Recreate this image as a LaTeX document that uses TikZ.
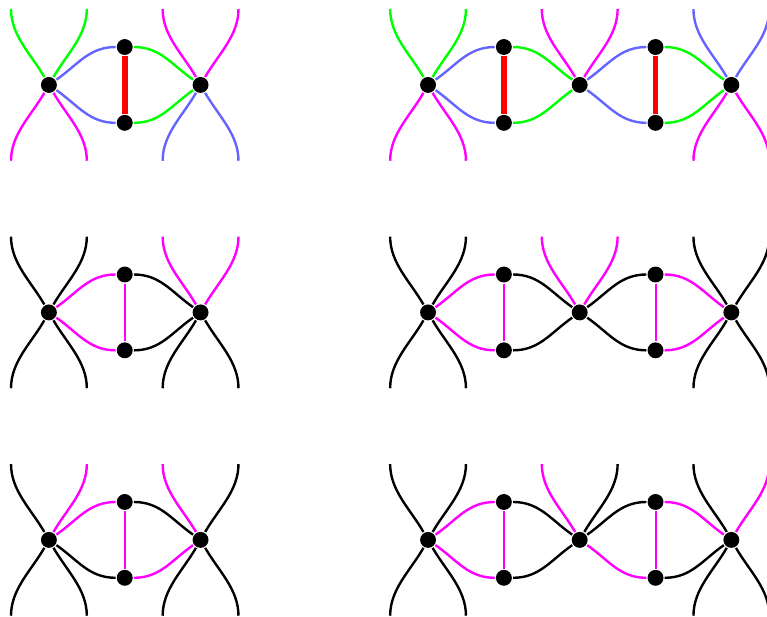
\documentclass[tikz,border=0pt]{standalone}
\definecolor{lgreen}{HTML}{00FF00}
\definecolor{lblue}{HTML}{6464FF}
\definecolor{mag}{HTML}{FF00FF}
\definecolor{lred}{HTML}{FF0000}

\begin{document}
\begin{tikzpicture}[line width=1.8pt]
\tikzset{
  dot/.style={circle,fill=black,inner sep=0pt,minimum size=.42cm},
  rung/.style={line width=1.5pt},
  hot/.style={lred,line width=4.2pt},
  legul/.style={out=120,in=-90,looseness=.9},
  legur/.style={out=60,in=-90,looseness=.9},
  legdl/.style={out=240,in=90,looseness=.9},
  legdr/.style={out=-60,in=90,looseness=.9},
  rise/.style={out=35,in=180},
  sink/.style={out=-35,in=180},
  fall/.style={out=0,in=145},
  climb/.style={out=0,in=-145}}
\useasboundingbox (-1.29,-2.03) rectangle (18.94,14.24);

% small panels, left column
\foreach \p/\y in {a/12,c/6,e/0}{
  \node[dot] (\p L) at (0,\y) {};
  \node[dot] (\p T) at (2,\y+1) {};
  \node[dot] (\p B) at (2,\y-1) {};
  \node[dot] (\p R) at (4,\y) {};
}
% long panels, right column
\foreach \p/\y in {b/12,d/6,f/0}{
  \node[dot] (\p L) at (10,\y) {};
  \node[dot] (\p T1) at (12,\y+1) {};
  \node[dot] (\p B1) at (12,\y-1) {};
  \node[dot] (\p M) at (14,\y) {};
  \node[dot] (\p T2) at (16,\y+1) {};
  \node[dot] (\p B2) at (16,\y-1) {};
  \node[dot] (\p R) at (18,\y) {};
}

% row 1, left
\draw[lgreen] (aL) to[legul] ++(-1,2) (aL) to[legur] ++(1,2);
\draw[mag] (aL) to[legdl] ++(-1,-2) (aL) to[legdr] ++(1,-2);
\draw[lblue] (aL) to[rise] (aT) (aL) to[sink] (aB);
\draw[hot] (aT) -- (aB);
\draw[lgreen] (aT) to[fall] (aR) (aB) to[climb] (aR);
\draw[mag] (aR) to[legul] ++(-1,2) (aR) to[legur] ++(1,2);
\draw[lblue] (aR) to[legdl] ++(-1,-2) (aR) to[legdr] ++(1,-2);

% row 1, right
\draw[lgreen] (bL) to[legul] ++(-1,2) (bL) to[legur] ++(1,2);
\draw[mag] (bL) to[legdl] ++(-1,-2) (bL) to[legdr] ++(1,-2);
\draw[lblue] (bL) to[rise] (bT1) (bL) to[sink] (bB1);
\draw[hot] (bT1) -- (bB1);
\draw[lgreen] (bT1) to[fall] (bM) (bB1) to[climb] (bM);
\draw[mag] (bM) to[legul] ++(-1,2) (bM) to[legur] ++(1,2);
\draw[lblue] (bM) to[rise] (bT2) (bM) to[sink] (bB2);
\draw[hot] (bT2) -- (bB2);
\draw[lgreen] (bT2) to[fall] (bR) (bB2) to[climb] (bR);
\draw[lblue] (bR) to[legul] ++(-1,2) (bR) to[legur] ++(1,2);
\draw[mag] (bR) to[legdl] ++(-1,-2) (bR) to[legdr] ++(1,-2);

% row 2, left
\draw (cL) to[legul] ++(-1,2) (cL) to[legur] ++(1,2);
\draw (cL) to[legdl] ++(-1,-2) (cL) to[legdr] ++(1,-2);
\draw[mag] (cL) to[rise] (cT) (cL) to[sink] (cB);
\draw[mag,rung] (cT) -- (cB);
\draw (cT) to[fall] (cR) (cB) to[climb] (cR);
\draw[mag] (cR) to[legul] ++(-1,2) (cR) to[legur] ++(1,2);
\draw (cR) to[legdl] ++(-1,-2) (cR) to[legdr] ++(1,-2);

% row 2, right
\draw (dL) to[legul] ++(-1,2) (dL) to[legur] ++(1,2);
\draw (dL) to[legdl] ++(-1,-2) (dL) to[legdr] ++(1,-2);
\draw[mag] (dL) to[rise] (dT1) (dL) to[sink] (dB1);
\draw[mag,rung] (dT1) -- (dB1);
\draw (dT1) to[fall] (dM) (dB1) to[climb] (dM);
\draw[mag] (dM) to[legul] ++(-1,2) (dM) to[legur] ++(1,2);
\draw (dM) to[rise] (dT2) (dM) to[sink] (dB2);
\draw[mag,rung] (dT2) -- (dB2);
\draw[mag] (dT2) to[fall] (dR) (dB2) to[climb] (dR);
\draw (dR) to[legul] ++(-1,2) (dR) to[legur] ++(1,2);
\draw (dR) to[legdl] ++(-1,-2) (dR) to[legdr] ++(1,-2);

% row 3, left
\draw (eL) to[legul] ++(-1,2);
\draw[mag] (eL) to[legur] ++(1,2);
\draw (eL) to[legdl] ++(-1,-2) (eL) to[legdr] ++(1,-2);
\draw[mag] (eL) to[rise] (eT);
\draw (eL) to[sink] (eB);
\draw[mag,rung] (eT) -- (eB);
\draw (eT) to[fall] (eR);
\draw[mag] (eB) to[climb] (eR);
\draw[mag] (eR) to[legul] ++(-1,2);
\draw (eR) to[legur] ++(1,2);
\draw (eR) to[legdl] ++(-1,-2) (eR) to[legdr] ++(1,-2);

% row 3, right
\draw (fL) to[legul] ++(-1,2) (fL) to[legur] ++(1,2);
\draw (fL) to[legdl] ++(-1,-2) (fL) to[legdr] ++(1,-2);
\draw[mag] (fL) to[rise] (fT1) (fL) to[sink] (fB1);
\draw[mag,rung] (fT1) -- (fB1);
\draw (fT1) to[fall] (fM) (fB1) to[climb] (fM);
\draw[mag] (fM) to[legul] ++(-1,2);
\draw (fM) to[legur] ++(1,2);
\draw (fM) to[rise] (fT2);
\draw[mag] (fM) to[sink] (fB2);
\draw[mag,rung] (fT2) -- (fB2);
\draw[mag] (fT2) to[fall] (fR);
\draw (fB2) to[climb] (fR);
\draw (fR) to[legul] ++(-1,2);
\draw[mag] (fR) to[legur] ++(1,2);
\draw (fR) to[legdl] ++(-1,-2) (fR) to[legdr] ++(1,-2);
\end{tikzpicture}
\end{document}
